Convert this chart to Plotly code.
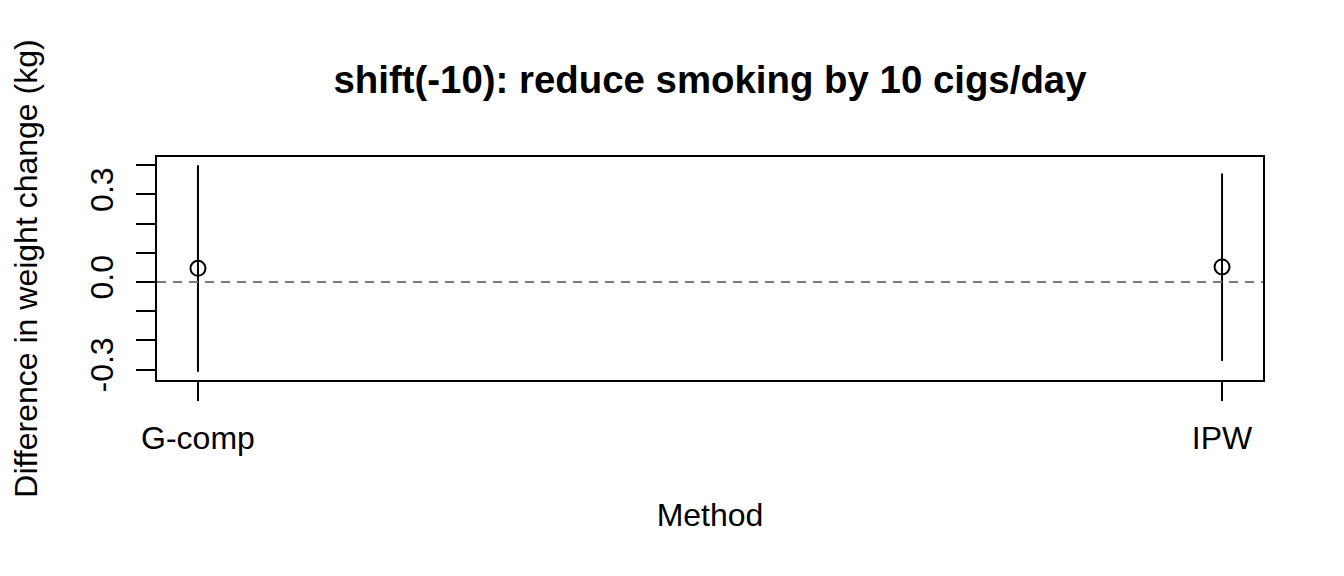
import plotly.graph_objects as go

# Data
methods = ["G-comp", "IPW"]
method_pos = [1, 2]
estimates = [0.047, 0.052]
ci_lower = [-0.307, -0.270]
ci_upper = [0.400, 0.372]
ref_value = 0.0
y_ticks = [-0.3, -0.2, -0.1, 0.0, 0.1, 0.2, 0.3, 0.4]
y_tick_labels = ["-0.3", "", "", "0.0", "", "", "0.3", ""]

FONT = "Liberation Sans, Arial, Helvetica, sans-serif"

err_plus = [u - e for u, e in zip(ci_upper, estimates)]
err_minus = [e - l for e, l in zip(estimates, ci_lower)]

fig = go.Figure()
fig.add_hline(y=ref_value, line=dict(color="#7a7a7a", width=2, dash="9px,7px"))
fig.add_trace(go.Scatter(
    x=method_pos, y=estimates, mode="markers",
    marker=dict(symbol="circle-open", size=15, color="black", line=dict(width=2, color="black")),
    error_y=dict(type="data", symmetric=False, array=err_plus, arrayminus=err_minus,
                 width=0, thickness=2, color="black"),
    showlegend=False, hoverinfo="skip",
))

lo = min(ci_lower); hi = max(ci_upper); pad = 0.04 * (hi - lo)

# page body has an 8px margin; compensate so the plot box lands at 157..1263 x 157..380
L, T, PW, PH = 149, 149, 1106, 223
W, H = 1344, 576

fig.update_layout(
    width=W, height=H,
    margin=dict(l=L, r=W - L - PW, t=T, b=H - T - PH),
    paper_bgcolor="white", plot_bgcolor="white",
    font=dict(family=FONT, size=32, color="black"),
    title=dict(text="<b>shift(-10): reduce smoking by 10 cigs/day</b>",
               x=(L + PW / 2) / W, xanchor="center", xref="container",
               y=1 - 72 / H, yanchor="middle", yref="container",
               font=dict(size=38.4, family=FONT, color="black")),
    xaxis=dict(range=[0.96, 2.04], tickvals=method_pos, ticktext=methods,
               showgrid=False, zeroline=False,
               showline=True, mirror=True, linecolor="black", linewidth=2,
               ticks="outside", ticklen=19, tickwidth=2, tickcolor="black",
               ticklabelstandoff=10,
               title=dict(text="Method", standoff=48, font=dict(size=32)),
               automargin=False),
    yaxis=dict(range=[lo - pad, hi + pad], tickvals=y_ticks, ticktext=y_tick_labels,
               tickangle=-90,
               showgrid=False, zeroline=False,
               showline=True, mirror=True, linecolor="black", linewidth=2,
               ticks="outside", ticklen=19, tickwidth=2, tickcolor="black",
               ticklabelstandoff=10,
               title=dict(text="Difference in weight change (kg)", standoff=50, font=dict(size=32)),
               automargin=False),
)

fig.write_html("out.html")
